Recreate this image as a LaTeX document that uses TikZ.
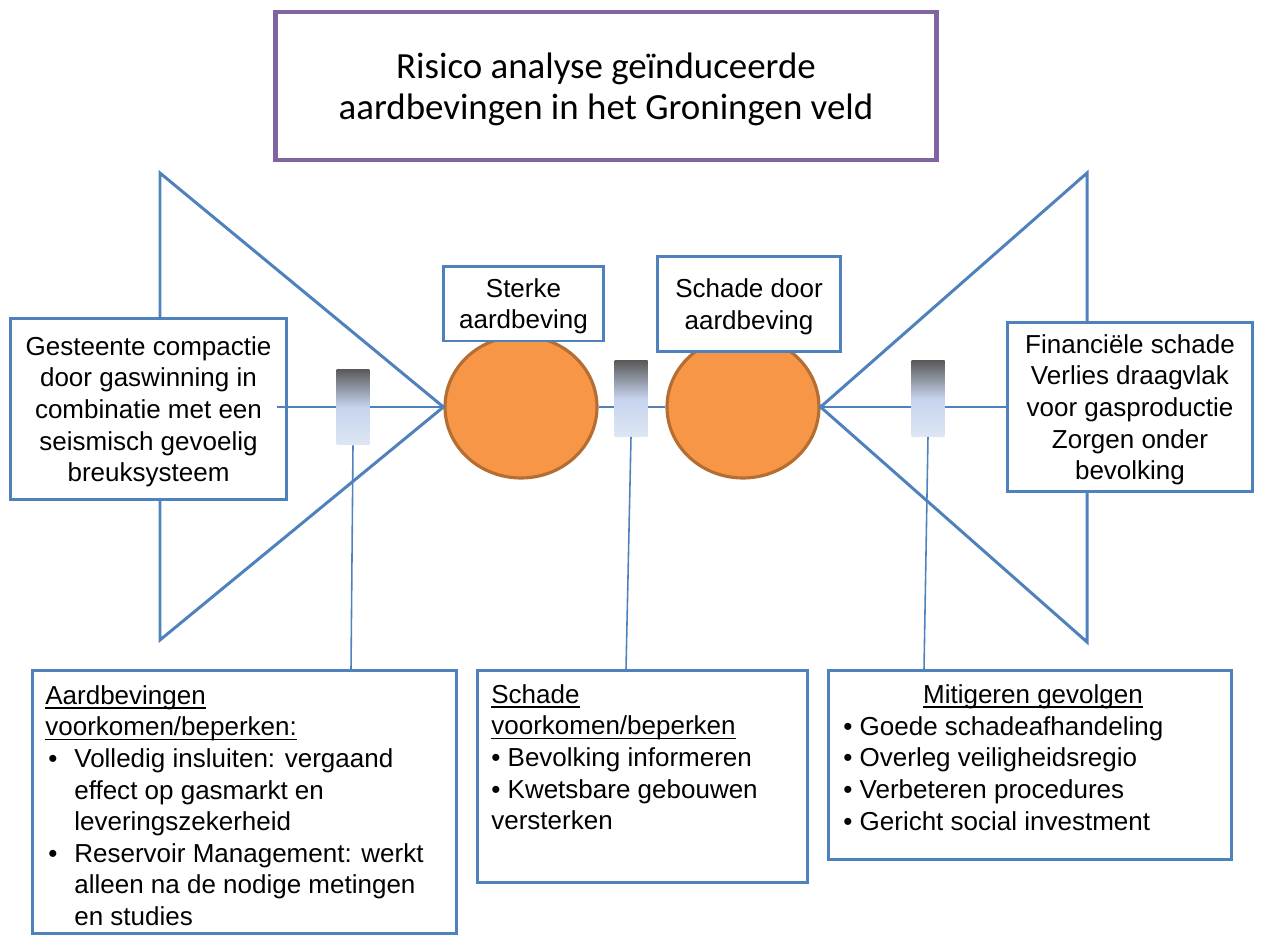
\documentclass[tikz,border=0pt]{standalone}
\usepackage{fontspec}
\setmainfont{Liberation Sans}
\newfontfamily\titlefont{Carlito}
\usepackage{tikz}
\usetikzlibrary{shapes.geometric}

\definecolor{bowblue}{HTML}{4F81BD}
\definecolor{bowpurple}{HTML}{8064A2}
\definecolor{bworange}{HTML}{F79646}
\definecolor{bworangeline}{HTML}{B66D31}
\definecolor{barriertop}{HTML}{595959}
\definecolor{barriermid}{HTML}{C6D4EE}
\definecolor{barrierbot}{HTML}{DDE6F3}

\newcommand{\headul}[1]{\setbox0\hbox{#1}\rlap{\rule[-0.17em]{\wd0}{0.06em}}\box0}

\tikzset{
  bowline/.style={draw=bowblue, line width=1.7pt},
  thinline/.style={draw=bowblue, line width=0.9pt},
  infobox/.style={draw=bowblue, line width=1.7pt, fill=white, align=center, inner sep=0pt},
  event/.style={ellipse, draw=bworangeline, fill=bworange, line width=1.8pt, minimum width=3.04cm, minimum height=2.84cm, inner sep=0pt},
  barrier/.style={rectangle, inner sep=0pt, top color=barriertop, bottom color=barrierbot, middle color=barriermid, minimum width=0.66cm, minimum height=1.52cm},
  bodytext/.style={font=\fontsize{14.8pt}{18pt}\selectfont},
  lowtext/.style={text depth=-0.07cm},
}

\begin{document}
\begin{tikzpicture}[x=0.02cm, y=-0.02cm]
  % Define the page
  \useasboundingbox (0,0) rectangle (1262,936);
  % Title
  \node[draw=bowpurple, line width=2.8pt, minimum width=13.24cm, minimum height=2.96cm, align=center,
        text depth=-0.05cm, font=\titlefont\fontsize{21pt}{23pt}\selectfont] (title) at (606,86)
        {Risico analyse geïnduceerde\\aardbevingen in het Groningen veld};
  % Top events
  \node[event] (cL) at (521,407) {};
  \node[event] (cR) at (743,407) {};
  % Bow tie wings
  \coordinate (wLt) at (160,173);
  \coordinate (wLb) at (160,640);
  \coordinate (wRt) at (1087,173);
  \coordinate (wRb) at (1087,642);
  \draw[bowline] (wLt) -- (cL.west) -- (wLb) -- cycle;
  \draw[bowline] (wRt) -- (cR.east) -- (wRb) -- cycle;
  % Cause, consequence and event labels
  \node[infobox, bodytext, lowtext, minimum width=5.54cm, minimum height=3.64cm] (cause) at (148.5,409)
        {Gesteente compactie\\door gaswinning in\\combinatie met een\\seismisch gevoelig\\breuksysteem};
  \node[infobox, bodytext, lowtext, minimum width=4.92cm, minimum height=3.4cm] (effect) at (1130,407)
        {Financiële schade\\Verlies draagvlak\\voor gasproductie\\Zorgen onder\\bevolking};
  \node[infobox, bodytext, lowtext, minimum width=3.22cm, minimum height=1.5cm] (topL) at (523.5,303.5) {Sterke\\aardbeving};
  \node[infobox, bodytext, lowtext, minimum width=3.68cm, minimum height=1.92cm] (topR) at (749,304) {Schade door\\aardbeving};
  % Main line
  \coordinate (srcL) at (277,407);
  \draw[thinline] (srcL) -- (cL.west);
  \draw[thinline] (cL.east) -- (cR.west);
  \draw[thinline] (cR.east) -- (effect.west);
  % Barriers
  \foreach \name/\x/\y in {barL/353/407, barM/631/398.5, barR/928/398.5}
    \node[barrier] (\name) at (\x,\y) {};
  \coordinate (lnkL) at (351,670);
  \coordinate (lnkM) at (626,670);
  \coordinate (lnkR) at (924,670);
  \foreach \b/\l in {barL/lnkL, barM/lnkM, barR/lnkR}
    \draw[thinline] (\b.south) -- (\l);
  % Measures
  \node[infobox, minimum width=8.5cm, minimum height=5.28cm] (measL) at (244.5,802) {};
  \node[infobox, minimum width=6.62cm, minimum height=4.26cm] (measM) at (642.5,776.5) {};
  \node[infobox, minimum width=8.08cm, minimum height=3.8cm] (measR) at (1030,765) {};
  \node[bodytext, anchor=north west, align=left, inner sep=0pt] (measLtxt) at (45,685)
        {\headul{Aardbevingen}\\
         \headul{voorkomen/beperken:}\\
         \makebox[0.58cm][l]{\hspace{0.06cm}\textbullet}Volledig insluiten: vergaand\\
         \hspace*{0.58cm}effect op gasmarkt en\\
         \hspace*{0.58cm}leveringszekerheid\\
         \makebox[0.58cm][l]{\hspace{0.06cm}\textbullet}Reservoir Management: werkt\\
         \hspace*{0.58cm}alleen na de nodige metingen\\
         \hspace*{0.58cm}en studies};
  \node[bodytext, anchor=north west, align=left, inner sep=0pt] (measMtxt) at (491,684)
        {\headul{Schade}\\
         \headul{voorkomen/beperken}\\
         \textbullet\ Bevolking informeren\\
         \textbullet\ Kwetsbare gebouwen\\
         versterken};
  \node[bodytext, anchor=north, inner sep=0pt] (measRhead) at (1033,684) {\headul{Mitigeren gevolgen}};
  \node[bodytext, anchor=north west, align=left, inner sep=0pt] (measRtxt) at (843,716)
        {\textbullet\ Goede schadeafhandeling\\
         \textbullet\ Overleg veiligheidsregio\\
         \textbullet\ Verbeteren procedures\\
         \textbullet\ Gericht social investment};
\end{tikzpicture}
\end{document}
